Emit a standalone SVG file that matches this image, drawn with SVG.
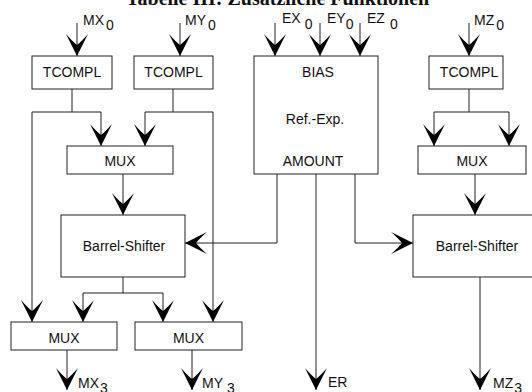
<svg xmlns="http://www.w3.org/2000/svg" width="532" height="392" viewBox="0 0 532 392">
<style>
.box{fill:#fff;stroke:#222;stroke-width:1}
.c{fill:none;stroke:#222;stroke-width:1;marker-end:url(#ah)}
.l{fill:none;stroke:#222;stroke-width:1}
text{font-family:"Liberation Sans",Arial,sans-serif;font-size:14px;fill:#111}
.m{text-anchor:middle}
.title{font-family:"Liberation Serif","Times New Roman",serif;font-weight:bold;font-size:20px}
</style>
<defs>
<marker id="ah" markerUnits="userSpaceOnUse" markerWidth="24" markerHeight="24" viewBox="-23 -12 24 24" refX="0" refY="0" orient="auto">
<path d="M0,0 L-22,-11 Q-14,-4 -11,0 Q-14,4 -22,11 Z" fill="#000"/>
</marker>
</defs>
<text class="title" x="126" y="5">Tabelle III: Zusätzliche Funktionen</text>

<g id="connectors">
<path class="c" d="M77,23 V56"/>
<path class="c" d="M180,23 V56"/>
<path class="c" d="M275,23 V56"/>
<path class="c" d="M320,23 V56"/>
<path class="c" d="M360,23 V56"/>
<path class="c" d="M469,23 V56"/>
<path class="c" d="M72,89 V112 H32 V322"/>
<path class="c" d="M72,112 H101 V146"/>
<path class="c" d="M173,89 V112 H145 V146"/>
<path class="c" d="M173,112 H213 V322"/>
<path class="c" d="M123,174 V215"/>
<path class="c" d="M123,277 V293 H83 V322"/>
<path class="c" d="M123,293 H163 V322"/>
<path class="c" d="M277,174 V243 H185"/>
<path class="c" d="M316,174 V390"/>
<path class="c" d="M355,174 V243 H413"/>
<path class="c" d="M469,89 V112 H434 V146"/>
<path class="c" d="M469,112 H509 V146"/>
<path class="c" d="M475,174 V215"/>
<path class="c" d="M480,277 V390"/>
<path class="c" d="M67,350 V390"/>
<path class="c" d="M192,350 V390"/>
</g>

<g id="labels">
<text x="83" y="25">MX<tspan dx="2" dy="5">0</tspan></text>
<text x="185" y="25">MY<tspan dx="2" dy="5">0</tspan></text>
<text x="282" y="23">EX<tspan dx="4" dy="6">0</tspan></text>
<text x="327" y="23">EY<tspan dx="0" dy="6">0</tspan></text>
<text x="367" y="23">EZ<tspan dx="5" dy="6">0</tspan></text>
<text x="474" y="25">MZ<tspan dx="2" dy="5">0</tspan></text>
<text x="78" y="388">MX<tspan dx="1" dy="5">3</tspan></text>
<text x="202" y="388">MY<tspan dx="4" dy="5">3</tspan></text>
<text x="328" y="387">ER</text>
<text x="493" y="388">MZ<tspan dx="1" dy="5">3</tspan></text>
</g>

<g id="tcompl1"><rect class="box" x="32" y="56" width="80" height="33"/><text class="m" x="72" y="77">TCOMPL</text></g>
<g id="tcompl2"><rect class="box" x="134" y="56" width="79" height="33"/><text class="m" x="173.5" y="77">TCOMPL</text></g>
<g id="bias"><rect class="box" x="254" y="56" width="124" height="118"/>
<text class="m" x="318" y="77">BIAS</text>
<text class="m" x="315" y="124">Ref.-Exp.</text>
<text class="m" x="313" y="166">AMOUNT</text></g>
<g id="tcompl3"><rect class="box" x="429" y="56" width="74" height="33"/><text class="m" x="469" y="77">TCOMPL</text></g>
<g id="mux1"><rect class="box" x="67" y="146" width="106" height="28"/><text class="m" x="120" y="166">MUX</text></g>
<g id="mux3"><rect class="box" x="418" y="146" width="108" height="28"/><text class="m" x="472" y="166">MUX</text></g>
<g id="barrel1"><rect class="box" x="61" y="215" width="124" height="62"/><text class="m" x="124" y="251">Barrel-Shifter</text></g>
<g id="barrel2"><rect class="box" x="413" y="215" width="130" height="62"/><text class="m" x="477" y="251">Barrel-Shifter</text></g>
<g id="mux4"><rect class="box" x="11" y="322" width="106" height="28"/><text class="m" x="64" y="343">MUX</text></g>
<g id="mux5"><rect class="box" x="135" y="322" width="107" height="28"/><text class="m" x="188.5" y="343">MUX</text></g>
</svg>
